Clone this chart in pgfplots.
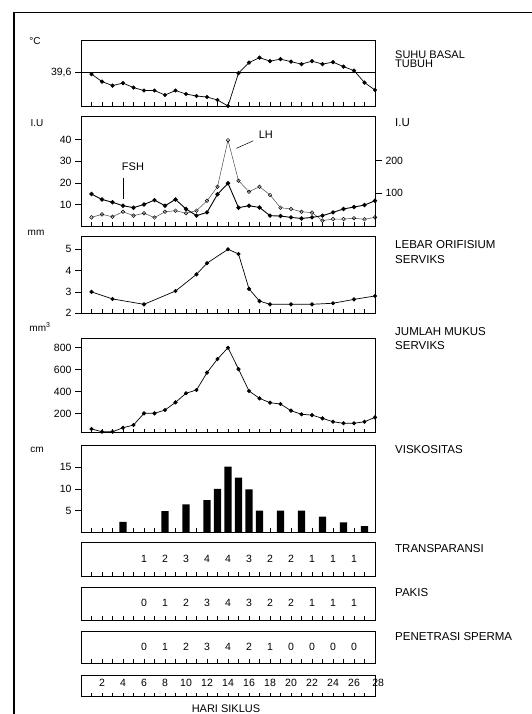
\documentclass[border=0pt]{standalone}
\usepackage{pgfplots}
\pgfplotsset{compat=1.18}
\usepackage{pgfplotstable}
\usepackage{fontspec}
\setmainfont{Liberation Sans}

% small upward tick at each cycle day, drawn on the bottom edge
\pgfdeclareplotmark{dtick}{\pgfpathmoveto{\pgfpointorigin}\pgfpathlineto{\pgfpoint{0pt}{4pt}}\pgfusepathqstroke}

\newcommand{\tempref}{39,6}

\pgfplotstableread{
d z
1 0
2 0
3 0
4 0
5 0
6 0
7 0
8 0
9 0
10 0
11 0
12 0
13 0
14 0
15 0
16 0
17 0
18 0
19 0
20 0
21 0
22 0
23 0
24 0
25 0
26 0
27 0
}\days

% basal body temperature
\pgfplotstableread{
d t
1 39.57
2 39.42
3 39.34
4 39.39
5 39.30
6 39.24
7 39.24
8 39.15
9 39.24
10 39.17
11 39.13
12 39.11
13 39.05
14 38.93
15 39.59
16 39.80
17 39.90
18 39.83
19 39.87
20 39.82
21 39.77
22 39.83
23 39.77
24 39.81
25 39.72
26 39.64
27 39.40
28 39.25
}\temp

% FSH and LH (left scale)
\pgfplotstableread{
d fsh lh
1 14.8 4.0
2 12.3 5.4
3 11.0 4.3
4 9.4 6.6
5 8.5 4.8
6 10.0 5.9
7 12.0 3.9
8 9.4 6.6
9 12.3 7.1
10 7.9 5.9
11 4.8 7.1
12 6.3 11.7
13 14.7 18.2
14 19.8 39.8
15 8.5 21.0
16 9.4 15.9
17 8.6 18.2
18 4.8 14.4
19 4.6 8.5
20 4.0 7.9
21 3.5 6.6
22 4.0 6.2
23 4.8 2.5
24 6.3 3.2
25 7.9 3.2
26 8.8 3.6
27 9.7 3.1
28 11.7 4.0
}\hormon

% width of the cervical os
\pgfplotstableread{
d w
1 3.00
3 2.67
6 2.42
9 3.04
11 3.82
12 4.34
14 4.99
15 4.77
16 3.14
17 2.57
18 2.42
20 2.42
22 2.42
24 2.47
26 2.65
28 2.81
}\orif

% amount of cervical mucus
\pgfplotstableread{
d v
1 58
2 33
3 33
4 69
5 94
6 201
7 201
8 231
9 301
10 384
11 414
12 572
13 697
14 800
15 605
16 405
17 338
18 298
19 286
20 225
21 192
22 185
23 155
24 124
25 110
26 110
27 124
28 164
}\mukus

\pgfplotsset{
  panel/.style={
    scale only axis, width=294pt, xmin=0, xmax=28, xtick=\empty,
    anchor=north west, clip=false,
    tick align=outside, major tick length=6pt, ytick pos=left,
    axis line style={line width=0.6pt},
    every tick/.style={black, line width=0.6pt},
    tick label style={font=\fontsize{10.5}{12}\selectfont},
    /pgf/number format/assume math mode=true,
  },
  dt/.style={only marks, mark=dtick, mark options={line width=0.6pt}},
  dot/.style={black, line width=0.7pt, mark=*, mark size=1.7pt},
  nums/.style={only marks, mark=none, nodes near coords,
    point meta=explicit symbolic,
    every node near coord/.style={inner sep=0pt, anchor=south,
      font=\fontsize{10.5}{12}\selectfont}},
}

\newcommand{\rlab}[2]{\node[anchor=west, inner sep=0pt,
  font=\fontsize{11.5}{13}\selectfont] at (395pt,-#1pt) {#2};}
\newcommand{\ulab}[3]{\node[inner sep=0pt,
  font=\fontsize{10}{12}\selectfont] at (#1pt,-#2pt) {#3};}

\begin{document}
\begin{tikzpicture}
\useasboundingbox (0pt,0pt) rectangle (532pt,-714pt);
\fill[white] (0pt,0pt) rectangle (532pt,-714pt);
\draw[line width=2.5pt] (14pt,-714pt) -- (14pt,-12.5pt);
\draw[line width=1.6pt] (12.8pt,-12.5pt) -- (532pt,-12.5pt);

% --- basal body temperature
\begin{axis}[panel, at={(81pt,-40.7pt)}, height=65.3pt,
  ymin=38.93, ymax=40.24, ytick={39.6}, yticklabels={\tempref}]
\addplot[black, line width=0.5pt] coordinates {(0,39.6) (28,39.6)};
\addplot[dot] table[x=d, y=t] {\temp};
\addplot[dt] table[x=d, y expr=38.93] {\days};
\end{axis}

% --- FSH / LH
\begin{axis}[panel, at={(81pt,-116pt)}, height=110pt,
  ymin=0, ymax=51, ytick={10,20,30,40}]
\addplot[black!70, line width=0.5pt, mark=o, mark size=1.8pt,
  mark options={fill=white, draw=black}] table[x=d, y=lh] {\hormon};
\addplot[dot, line width=0.9pt] table[x=d, y=fsh] {\hormon};
\addplot[dt] table[x=d, y=z] {\days};
\draw[line width=0.5pt] (axis cs:4,22.4) -- (axis cs:4,12.3);
\node[font=\fontsize{11}{13}\selectfont] at (axis cs:4.95,27.5) {FSH};
\draw[line width=0.5pt] (axis cs:14.8,36.0) -- (axis cs:16.4,39.5);
\node[font=\fontsize{11}{13}\selectfont] at (axis cs:17.6,42.1) {LH};
\end{axis}
\begin{axis}[at={(81pt,-116pt)}, anchor=north west, scale only axis,
  width=294pt, height=110pt, xmin=0, xmax=28, ymin=0, ymax=336,
  axis x line=none, axis y line*=right, ytick={100,200},
  tick align=outside, major tick length=7pt,
  axis line style={line width=0.6pt},
  every tick/.style={black, line width=0.6pt},
  tick label style={font=\fontsize{10.5}{12}\selectfont},
  /pgf/number format/assume math mode=true]
\addplot[draw=none] coordinates {(0,0) (28,0)};
\end{axis}

% --- width of cervical os
\begin{axis}[panel, at={(81pt,-236pt)}, height=77.3pt,
  ymin=2, ymax=5.61, ytick={2,3,4,5}]
\addplot[dot] table[x=d, y=w] {\orif};
\addplot[dt] table[x=d, y expr=2] {\days};
\end{axis}

% --- cervical mucus amount
\begin{axis}[panel, at={(81pt,-338.3pt)}, height=94.4pt,
  ymin=24, ymax=886, ytick={200,400,600,800}]
\addplot[dot] table[x=d, y=v] {\mukus};
\addplot[dt] table[x=d, y expr=24] {\days};
\end{axis}

% --- viscosity
\begin{axis}[panel, at={(81pt,-445pt)}, height=87.3pt,
  ymin=0, ymax=20.1, ytick={5,10,15}]
\addplot[dt] table[x=d, y=z] {\days};
\addplot[ybar, bar width=7.3pt, fill=black, draw=none] coordinates {
  (4,2.4) (8,4.9) (10,6.45) (12,7.4) (13,10) (14,15.1) (15,12.6)
  (16,9.9) (17,5.0) (19,5.0) (21,5.0) (23,3.6) (25,2.3) (27,1.45)};
\end{axis}

% --- transparency
\begin{axis}[panel, at={(81pt,-542.7pt)}, height=33.3pt,
  ymin=0, ymax=1, ytick=\empty]
\addplot[dt] table[x=d, y=z] {\days};
\addplot[nums] coordinates {
  (6,0.39)[1] (8,0.39)[2] (10,0.39)[3] (12,0.39)[4] (14,0.39)[4]
  (16,0.39)[3] (18,0.39)[2] (20,0.39)[2] (22,0.39)[1] (24,0.39)[1]
  (26,0.39)[1]};
\end{axis}

% --- fern test
\begin{axis}[panel, at={(81pt,-587.7pt)}, height=32.3pt,
  ymin=0, ymax=1, ytick=\empty]
\addplot[dt] table[x=d, y=z] {\days};
\addplot[nums] coordinates {
  (6,0.4)[0] (8,0.4)[1] (10,0.4)[2] (12,0.4)[3] (14,0.4)[4]
  (16,0.4)[3] (18,0.4)[2] (20,0.4)[2] (22,0.4)[1] (24,0.4)[1]
  (26,0.4)[1]};
\end{axis}

% --- sperm penetration
\begin{axis}[panel, at={(81pt,-631pt)}, height=32.3pt,
  ymin=0, ymax=1, ytick=\empty]
\addplot[dt] table[x=d, y=z] {\days};
\addplot[nums] coordinates {
  (6,0.4)[0] (8,0.4)[1] (10,0.4)[2] (12,0.4)[3] (14,0.4)[4]
  (16,0.4)[2] (18,0.4)[1] (20,0.4)[0] (22,0.4)[0] (24,0.4)[0]
  (26,0.4)[0]};
\end{axis}

% --- cycle days
\begin{axis}[panel, at={(81pt,-675pt)}, height=21.7pt,
  ymin=0, ymax=1, ytick=\empty]
\addplot[dt] table[x=d, y=z] {\days};
\addplot[nums] coordinates {
  (2,0.47)[2] (4,0.47)[4] (6,0.47)[6] (8,0.47)[8] (10,0.47)[10]
  (12,0.47)[12] (14,0.47)[14] (16,0.47)[16] (18,0.47)[18]
  (20,0.47)[20] (22,0.47)[22] (24,0.47)[24] (26,0.47)[26]
  (28.3,0.47)[28]};
\end{axis}

% unit labels on the left
\ulab{35}{41}{°C}
\ulab{37}{123}{I.U}
\ulab{36}{233}{mm}
\ulab{40}{327}{mm\textsuperscript{3}}
\ulab{37}{450}{cm}

% row titles on the right
\node[anchor=north west, inner sep=0pt, align=left,
  font=\fontsize{11}{9.5}\selectfont] at (395pt,-50.5pt) {SUHU BASAL\\TUBUH};
\rlab{123}{I.U}
\rlab{245}{LEBAR ORIFISIUM}
\rlab{259.5}{SERVIKS}
\rlab{332}{JUMLAH MUKUS}
\rlab{346}{SERVIKS}
\rlab{450}{VISKOSITAS}
\rlab{549}{TRANSPARANSI}
\rlab{592.5}{PAKIS}
\rlab{637}{PENETRASI SPERMA}
\node[font=\fontsize{11}{13}\selectfont, inner sep=0pt] at (226pt,-709pt) {HARI SIKLUS};
\end{tikzpicture}
\end{document}
